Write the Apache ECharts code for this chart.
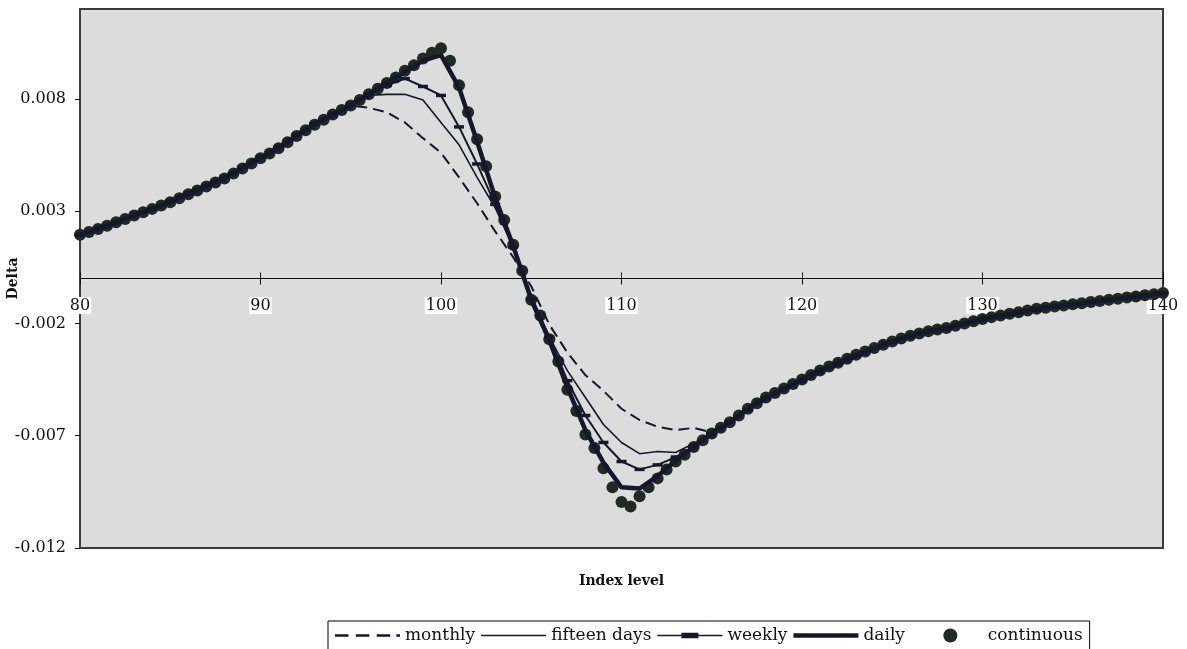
<!DOCTYPE html>
<html>
<head>
    <title>Delta</title>
    <meta charset="UTF-8">
    <script src="https://cdn.jsdelivr.net/npm/echarts@6/dist/echarts.min.js"></script>
    <style>
        body { margin: 0; background: #fff; }
        #chart { width: 1187px; height: 649px; }
    </style>
</head>
<body>
    <div id="chart"></div>
    <script>
        // index levels for the hedged series (step 1) and the continuous delta (step 0.5)
        var indexLevels = [80,81,82,83,84,85,86,87,88,89,90,91,92,93,94,95,96,97,98,99,
            100,101,102,103,104,105,106,107,108,109,110,111,112,113,114,115,116,117,118,119,
            120,121,122,123,124,125,126,127,128,129,130,131,132,133,134,135,136,137,138,139,140];
        var continuousLevels = [80,80.5,81,81.5,82,82.5,83,83.5,84,84.5,85,85.5,86,86.5,87,87.5,
            88,88.5,89,89.5,90,90.5,91,91.5,92,92.5,93,93.5,94,94.5,95,95.5,96,96.5,97,97.5,
            98,98.5,99,99.5,100,100.5,101,101.5,102,102.5,103,103.5,104,104.5,105,105.5,106,106.5,
            107,107.5,108,108.5,109,109.5,110,110.5,111,111.5,112,112.5,113,113.5,114,114.5,
            115,115.5,116,116.5,117,117.5,118,118.5,119,119.5,120,120.5,121,121.5,122,122.5,
            123,123.5,124,124.5,125,125.5,126,126.5,127,127.5,128,128.5,129,129.5,130,130.5,
            131,131.5,132,132.5,133,133.5,134,134.5,135,135.5,136,136.5,137,137.5,138,138.5,
            139,139.5,140];

        var monthly = [0.00200,0.00225,0.00255,0.00285,0.00315,0.00350,0.00385,0.00420,0.00455,0.00500,
            0.00545,0.00590,0.00645,0.00695,0.00735,0.00770,0.00760,0.00740,0.00695,0.00625,
            0.00560,0.00450,0.00335,0.00210,0.00095,-0.00035,-0.00205,-0.00330,-0.00430,-0.00500,
            -0.00580,-0.00630,-0.00660,-0.00675,-0.00665,-0.00685,-0.00640,-0.00585,-0.00540,-0.00495,
            -0.00460,-0.00420,-0.00385,-0.00350,-0.00315,-0.00285,-0.00260,-0.00240,-0.00225,-0.00205,
            -0.00185,-0.00170,-0.00155,-0.00140,-0.00125,-0.00115,-0.00105,-0.00095,-0.00085,-0.00075,-0.00065];
        var fifteenDays = [0.00195,0.00225,0.00255,0.00280,0.00315,0.00345,0.00385,0.00420,0.00450,0.00500,
            0.00540,0.00585,0.00640,0.00695,0.00735,0.00775,0.00815,0.00820,0.00820,0.00795,
            0.00695,0.00595,0.00450,0.00315,0.00140,-0.00075,-0.00260,-0.00410,-0.00530,-0.00650,
            -0.00730,-0.00780,-0.00770,-0.00775,-0.00735,-0.00695,-0.00645,-0.00585,-0.00535,-0.00495,
            -0.00455,-0.00420,-0.00385,-0.00350,-0.00315,-0.00285,-0.00260,-0.00240,-0.00225,-0.00205,
            -0.00185,-0.00170,-0.00155,-0.00140,-0.00125,-0.00115,-0.00105,-0.00095,-0.00085,-0.00075,-0.00065];
        var weekly = [0.00195,0.00225,0.00250,0.00285,0.00310,0.00345,0.00380,0.00415,0.00450,0.00495,
            0.00540,0.00585,0.00640,0.00690,0.00730,0.00775,0.00820,0.00860,0.00890,0.00855,
            0.00815,0.00675,0.00510,0.00330,0.00140,-0.00090,-0.00260,-0.00455,-0.00610,-0.00730,
            -0.00815,-0.00850,-0.00830,-0.00795,-0.00750,-0.00690,-0.00640,-0.00585,-0.00535,-0.00490,
            -0.00455,-0.00415,-0.00380,-0.00345,-0.00310,-0.00285,-0.00260,-0.00235,-0.00225,-0.00200,
            -0.00180,-0.00170,-0.00150,-0.00140,-0.00125,-0.00115,-0.00105,-0.00095,-0.00085,-0.00075,-0.00065];
        var daily = [0.00195,0.00220,0.00250,0.00282,0.00310,0.00342,0.00375,0.00412,0.00445,0.00492,
            0.00535,0.00582,0.00635,0.00687,0.00730,0.00772,0.00820,0.00870,0.00920,0.00970,
            0.00995,0.00850,0.00610,0.00360,0.00145,-0.00095,-0.00275,-0.00485,-0.00675,-0.00820,
            -0.00930,-0.00935,-0.00880,-0.00810,-0.00750,-0.00690,-0.00640,-0.00580,-0.00530,-0.00490,
            -0.00450,-0.00410,-0.00375,-0.00340,-0.00310,-0.00280,-0.00255,-0.00235,-0.00220,-0.00200,
            -0.00180,-0.00165,-0.00150,-0.00135,-0.00125,-0.00115,-0.00105,-0.00095,-0.00085,-0.00075,-0.00065];
        var continuous = [0.00195,0.00207,0.00220,0.00235,0.00250,0.00265,0.00280,0.00295,0.00310,0.00325,
            0.00340,0.00357,0.00375,0.00392,0.00410,0.00427,0.00445,0.00467,0.00490,0.00512,
            0.00535,0.00557,0.00580,0.00607,0.00635,0.00660,0.00685,0.00707,0.00730,0.00750,
            0.00770,0.00795,0.00820,0.00845,0.00870,0.00895,0.00925,0.00950,0.00980,0.01005,
            0.01025,0.00970,0.00860,0.00740,0.00620,0.00500,0.00365,0.00260,0.00150,0.00035,
            -0.00095,-0.00165,-0.00270,-0.00370,-0.00495,-0.00590,-0.00695,-0.00755,-0.00845,-0.00930,
            -0.00995,-0.01015,-0.00970,-0.00930,-0.00890,-0.00850,-0.00815,-0.00785,-0.00750,-0.00720,
            -0.00690,-0.00665,-0.00640,-0.00610,-0.00580,-0.00555,-0.00530,-0.00510,-0.00490,-0.00470,
            -0.00450,-0.00430,-0.00410,-0.00392,-0.00375,-0.00357,-0.00340,-0.00325,-0.00310,-0.00295,
            -0.00280,-0.00267,-0.00255,-0.00245,-0.00235,-0.00227,-0.00220,-0.00210,-0.00200,-0.00190,
            -0.00180,-0.00172,-0.00165,-0.00157,-0.00150,-0.00142,-0.00135,-0.00130,-0.00125,-0.00120,
            -0.00115,-0.00110,-0.00105,-0.00100,-0.00095,-0.00090,-0.00085,-0.00080,-0.00075,-0.00070,-0.00065];

        var seriesNames = ['monthly', 'fifteen days', 'weekly', 'daily', 'continuous'];

        function pairs(xs, ys) {
            return xs.map(function (x, i) { return [x, ys[i]]; });
        }

        var ink = '#17172a';
        var serif = 'DejaVu Serif';

        var chart = echarts.init(document.getElementById('chart'));
        chart.setOption({
            animation: false,
            backgroundColor: '#fff',
            grid: {
                left: 80, right: 24, top: 9, bottom: 101,
                show: true,
                backgroundColor: '#dcdcdc',
                borderColor: '#3c3c3c',
                borderWidth: 2,
                outerBoundsMode: 'none'
            },
            legend: {
                left: 328, top: 621,
                padding: [6, 7, 12, 7],
                backgroundColor: '#fff',
                borderColor: '#000',
                borderWidth: 1,
                borderRadius: 0,
                itemWidth: 65, itemHeight: 14, itemGap: 6,
                textStyle: { fontFamily: serif, fontSize: 17, color: '#111' },
                // extra room after "daily", as in the original legend
                formatter: function (name) { return name === 'daily' ? 'daily      ' : name; },
                data: [
                    { name: 'monthly', icon: 'path://M0,0h11v2H0z M17,0h11v2H17z M34,0h11v2H34z M50,0h3v2H50z' },
                    { name: 'fifteen days', icon: 'path://M0,0h65v1.6H0z' },
                    { name: 'weekly', icon: 'path://M0,2h24v1.6H0z M24,0h17v5.6H24z M41,2h24v1.6H41z' },
                    { name: 'daily', icon: 'path://M0,0h65v4.5H0z' },
                    { name: 'continuous', icon: 'circle' }
                ]
            },
            xAxis: [{
                type: 'value', min: 80, max: 140, interval: 10, position: 'bottom',
                name: 'Index level', nameLocation: 'middle', nameGap: 26, nameMoveOverlap: false,
                nameTextStyle: { fontFamily: serif, fontWeight: 'bold', fontSize: 14, color: '#111' },
                axisLine: { onZero: true, onZeroAxisIndex: 0, lineStyle: { color: '#111', width: 1.2 } },
                axisTick: { length: 6, lineStyle: { color: '#111' } },
                axisLabel: { fontFamily: serif, fontSize: 16, color: '#111', margin: -251,
                    backgroundColor: '#fff', padding: [1, 1, 0, 1] },
                splitLine: { show: false }
            }, {
                type: 'value', min: 80, max: 140, interval: 10, position: 'bottom',
                axisLine: { show: false, onZero: true, onZeroAxisIndex: 0 },
                axisTick: { inside: true, length: 6, lineStyle: { color: '#111' } },
                axisLabel: { show: false },
                splitLine: { show: false }
            }],
            yAxis: {
                type: 'value', min: -0.012, max: 0.012, interval: 0.005,
                name: 'Delta', nameLocation: 'middle', nameGap: 60, nameRotate: 90, nameMoveOverlap: false,
                nameTextStyle: { fontFamily: serif, fontWeight: 'bold', fontSize: 14, color: '#111' },
                axisLine: { show: false },
                axisTick: { show: true, length: 5, lineStyle: { color: '#111' } },
                axisLabel: {
                    fontFamily: serif, fontSize: 16, color: '#111', margin: 14,
                    showMaxLabel: false,
                    formatter: function (v) { return v > 0.0115 ? '' : v.toFixed(3); }
                },
                splitLine: { show: false }
            },
            series: [{
                name: seriesNames[0], type: 'line', symbol: 'none',
                data: pairs(indexLevels, monthly),
                lineStyle: { color: ink, width: 2, type: [11, 6] },
                itemStyle: { color: ink }
            }, {
                name: seriesNames[1], type: 'line', symbol: 'none',
                data: pairs(indexLevels, fifteenDays),
                lineStyle: { color: ink, width: 1.6 },
                itemStyle: { color: ink }
            }, {
                name: seriesNames[2], type: 'line', symbol: 'rect', symbolSize: [10, 3.5],
                data: pairs(indexLevels, weekly),
                lineStyle: { color: ink, width: 2 },
                itemStyle: { color: ink }
            }, {
                name: seriesNames[3], type: 'line', symbol: 'none',
                data: pairs(indexLevels, daily),
                lineStyle: { color: ink, width: 4.5 },
                itemStyle: { color: ink }
            }, {
                name: seriesNames[4], type: 'scatter', symbol: 'circle', symbolSize: 12,
                data: pairs(continuousLevels, continuous),
                itemStyle: { color: '#1e2a22', opacity: 1 }
            }]
        });
    </script>
</body>
</html>
